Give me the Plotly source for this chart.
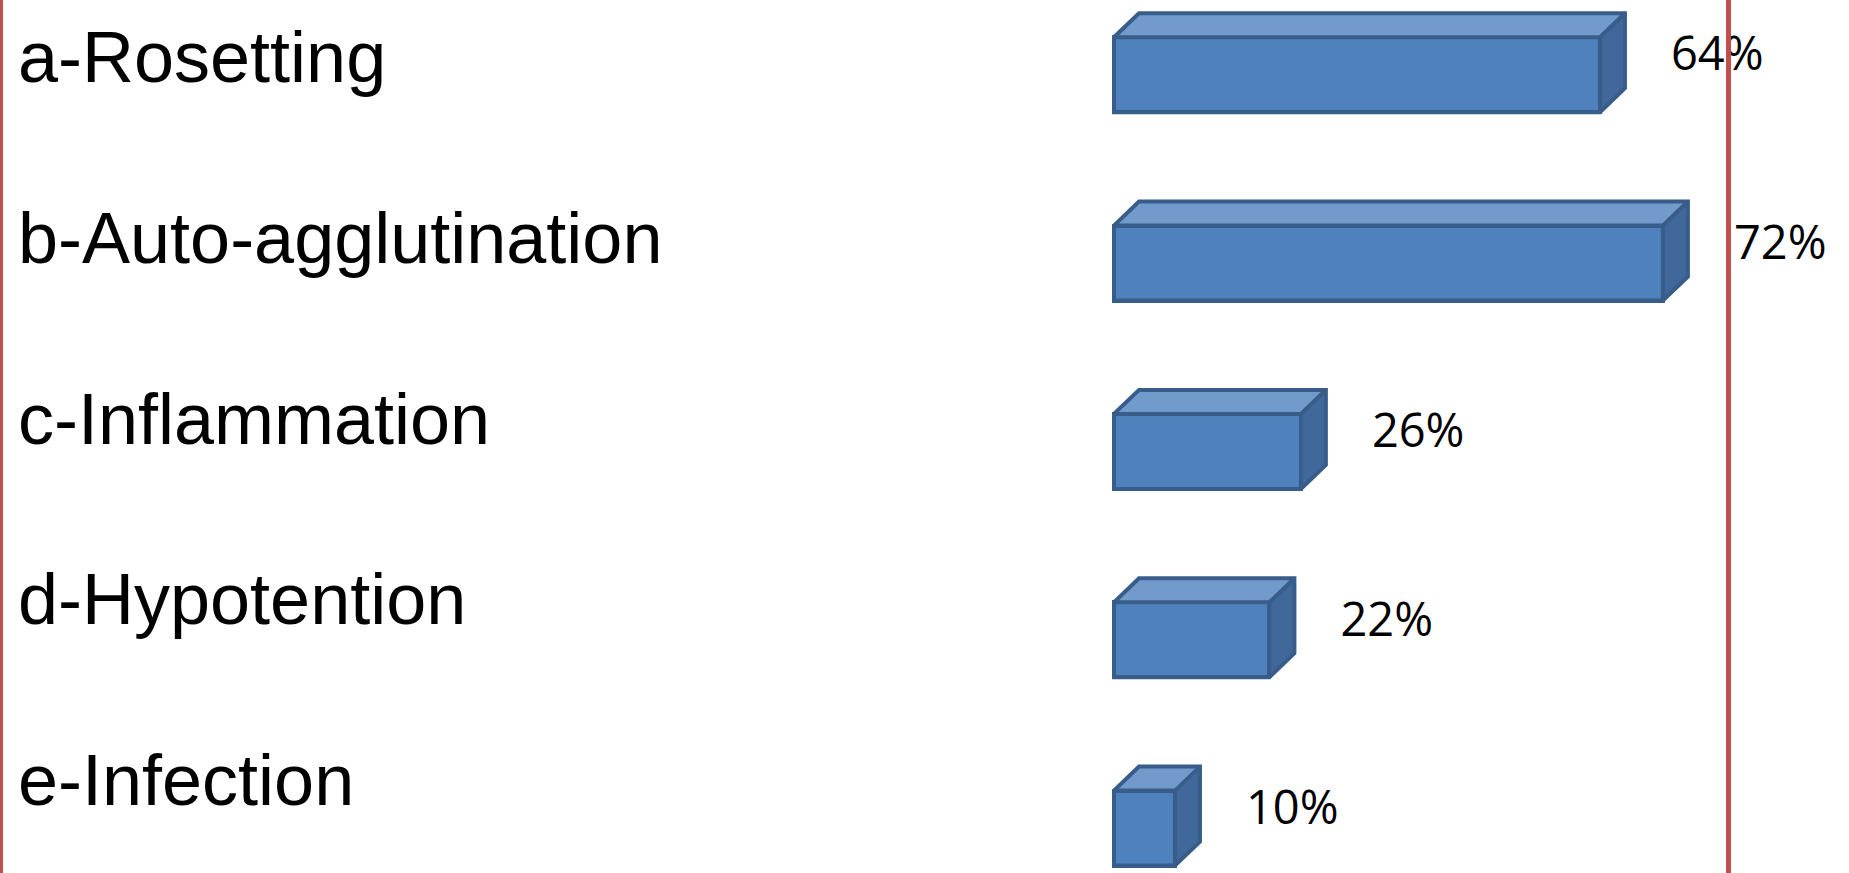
import plotly.graph_objects as go

# Share of cases showing each complication (%)
categories = ["a-Rosetting", "b-Auto-agglutination", "c-Inflammation",
              "d-Hypotention", "e-Infection"]
values = [64, 72, 26, 22, 10]
value_labels = ["64%", "72%", "26%", "22%", "10%"]

# ---- page geometry (pixels) ----
W, H = 1849, 873
X_START_PX = 1112          # left edge of the value axis
X_MIN = 2                  # value axis starts at 2%
PX_PER_PCT = 7.87          # horizontal scale
FIRST_ROW_PX = 74.7        # centre of the first bar, from the top
ROW_STEP_PX = 188.35       # distance between bar rows
BAR_PX = 75                # front-face height
DEPTH_X_PX, DEPTH_Y_PX = 25, 24   # 3-D extrusion
OUTLINE_W = 4

LABEL_TOP_PX = 57.5        # centre of the first category label
LABEL_STEP_PX = 180.5

FRONT = "#4F81BD"
TOP = "#729ACB"
SIDE = "#41689B"
OUTLINE = "#385D8A"
FRAME_RED = "#C0504D"

# axis ranges derived from the geometry
x_range = [X_MIN, X_MIN + (W - X_START_PX) / PX_PER_PCT]
y_top = -FIRST_ROW_PX / ROW_STEP_PX
y_bottom = y_top + H / ROW_STEP_PX
bar_w = BAR_PX / ROW_STEP_PX
dx = DEPTH_X_PX / PX_PER_PCT
dy = DEPTH_Y_PX / ROW_STEP_PX

rows = list(range(len(categories)))

fig = go.Figure()

# front faces of the bars
fig.add_trace(go.Bar(
    x=values, y=rows, orientation="h", width=bar_w,
    marker=dict(color=FRONT, line=dict(color=OUTLINE, width=OUTLINE_W)),
    hoverinfo="skip", showlegend=False,
))

shapes = []
no_line = dict(width=0)
edge_line = dict(color=OUTLINE, width=OUTLINE_W)
for i, v in enumerate(values):
    top = i - bar_w / 2
    bot = i + bar_w / 2
    x0 = X_MIN + (OUTLINE_W / 2) / PX_PER_PCT   # keep the left edge visible
    # top face (fill only)
    shapes.append(dict(
        type="path", xref="x", yref="y", layer="above",
        path=(f"M {x0},{top} L {v},{top} L {v + dx},{top - dy} "
              f"L {x0 + dx},{top - dy} Z"),
        fillcolor=TOP, line=no_line,
    ))
    # side face (fill only)
    shapes.append(dict(
        type="path", xref="x", yref="y", layer="above",
        path=(f"M {v},{top} L {v + dx},{top - dy} L {v + dx},{bot - dy} "
              f"L {v},{bot} Z"),
        fillcolor=SIDE, line=no_line,
    ))
    # outer silhouette of the box
    shapes.append(dict(
        type="path", xref="x", yref="y", layer="above",
        path=(f"M {x0},{bot} L {x0},{top} L {x0 + dx},{top - dy} "
              f"L {v + dx},{top - dy} L {v + dx},{bot - dy} L {v},{bot} Z"),
        fillcolor="rgba(0,0,0,0)", line=edge_line,
    ))
    # inner edges where the faces meet
    shapes.append(dict(
        type="path", xref="x", yref="y", layer="above",
        path=(f"M {x0},{top} L {v},{top} L {v + dx},{top - dy} "
              f"M {v},{top} L {v},{bot}"),
        fillcolor="rgba(0,0,0,0)", line=edge_line,
    ))

# value labels beside each bar
label_dx = 71 / PX_PER_PCT
label_dy = 16 / ROW_STEP_PX
fig.add_trace(go.Scatter(
    x=[v + label_dx for v in values],
    y=[i - label_dy for i in rows],
    mode="text", text=value_labels, textposition="middle right",
    textfont=dict(family="Open Sans", size=47, color="#000000"),
    cliponaxis=False, hoverinfo="skip", showlegend=False,
))

# red frame lines down both sides
shapes.append(dict(type="line", xref="paper", yref="paper", layer="above",
                   x0=1.5 / W, x1=1.5 / W, y0=0, y1=1,
                   line=dict(color=FRAME_RED, width=3)))
shapes.append(dict(type="line", xref="paper", yref="paper", layer="above",
                   x0=1728.5 / W, x1=1728.5 / W, y0=0, y1=1,
                   line=dict(color=FRAME_RED, width=5)))

# category labels along the left
annotations = []
for i, name in enumerate(categories):
    y_px = LABEL_TOP_PX + i * LABEL_STEP_PX
    annotations.append(dict(
        text=name, xref="paper", yref="paper",
        x=16 / W, y=1 - y_px / H, xanchor="left", yanchor="middle",
        showarrow=False,
        font=dict(family="Liberation Sans", size=72, color="#000000"),
    ))

fig.update_layout(
    width=W, height=H,
    margin=dict(l=0, r=0, t=0, b=0),
    paper_bgcolor="white", plot_bgcolor="white",
    xaxis=dict(domain=[X_START_PX / W, 1], range=x_range,
               visible=False, fixedrange=True),
    yaxis=dict(range=[y_bottom, y_top], visible=False, fixedrange=True),
    shapes=shapes, annotations=annotations,
    bargap=0,
)

fig.write_html("out.html", config={"displayModeBar": False})
